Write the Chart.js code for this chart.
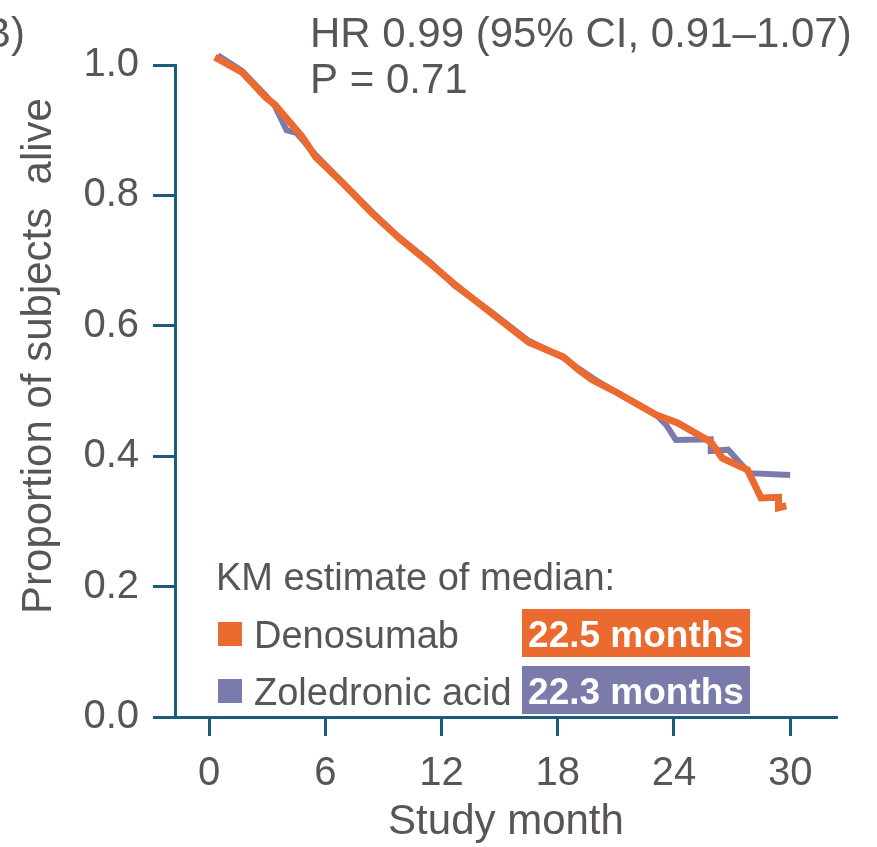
<!DOCTYPE html>
<html>
<head>
<meta charset="utf-8">
<script src="https://cdn.jsdelivr.net/npm/chart.js@4/dist/chart.umd.min.js"></script>
<style>
  html, body { margin: 0; padding: 0; background: #ffffff; }
</style>
</head>
<body>
<canvas id="kmChart" width="877" height="847"></canvas>
<script>
// Kaplan-Meier curves
var denosumabMonths   = [0.3, 1.7, 2.9, 3.4, 4.8, 5.5, 7.0, 8.4, 9.8, 11.4, 12.7, 14.5, 16.5, 18.3, 19.1, 19.8, 21.1, 23.1, 24.2, 25.9, 26.5, 27.8, 28.5, 29.4, 29.4, 29.8];
var denosumabSurvival = [1.012, 0.989, 0.951, 0.939, 0.890, 0.859, 0.816, 0.773, 0.735, 0.696, 0.663, 0.621, 0.575, 0.552, 0.532, 0.517, 0.497, 0.463, 0.451, 0.422, 0.397, 0.379, 0.336, 0.337, 0.321, 0.324];

var zoledronicMonths   = [0.45, 1.7, 2.9, 3.4, 4.0, 4.5, 5.5, 7.0, 8.4, 9.8, 11.4, 12.7, 14.5, 16.5, 18.3, 19.1, 19.9, 21.2, 23.1, 23.6, 24.1, 25.9, 25.9, 26.8, 27.9, 30.0];
var zoledronicSurvival = [1.015, 0.991, 0.954, 0.937, 0.900, 0.896, 0.862, 0.817, 0.775, 0.736, 0.698, 0.661, 0.623, 0.577, 0.551, 0.534, 0.518, 0.495, 0.463, 0.448, 0.425, 0.426, 0.408, 0.410, 0.374, 0.371];

var xTicks = [0, 6, 12, 18, 24, 30];
var yTicks = [0, 0.2, 0.4, 0.6, 0.8, 1.0];

var seriesNames  = ['Denosumab', 'Zoledronic acid'];
var medianLabels = ['22.5 months', '22.3 months'];

var orange = '#eb6a30';
var purple = '#7b7bab';
var axisColor = '#1b5b7c';
var textColor = '#595556';
var fontFamily = '"Liberation Sans", Arial, sans-serif';

function toPoints(xs, ys) {
    return xs.map(function(x, i) { return { x: x, y: ys[i] }; });
}

// annotations: panel label, HR/P text, y title, median legend
var annotations = {
    id: 'annotations',
    afterDraw: function(chart) {
        var ctx = chart.ctx;
        ctx.save();
        ctx.fillStyle = textColor;
        ctx.textAlign = 'left';
        ctx.textBaseline = 'alphabetic';
        ctx.font = '42px ' + fontFamily;
        ctx.fillText('B)', -17, 47);
        ctx.fillText('HR 0.99 (95% CI, 0.91\u20131.07)', 310, 47);
        ctx.fillText('P = 0.71', 310, 93);

        // y axis title
        ctx.save();
        ctx.translate(51, 356);
        ctx.rotate(-Math.PI / 2);
        ctx.textAlign = 'center';
        ctx.fillText('Proportion of subjects  alive', 0, 0);
        ctx.restore();

        // median legend
        ctx.font = '38px ' + fontFamily;
        ctx.fillText('KM estimate of median:', 216, 590);
        var colors = [orange, purple];
        var rowY = [634, 691];
        for (var i = 0; i < seriesNames.length; i++) {
            ctx.fillStyle = colors[i];
            ctx.fillRect(218, rowY[i] - 12, 24, 24);
            ctx.fillRect(522, rowY[i] - 25, 228, 48);
            ctx.fillStyle = textColor;
            ctx.font = '38px ' + fontFamily;
            ctx.textAlign = 'left';
            ctx.fillText(seriesNames[i], 254, rowY[i] + 14);
            ctx.fillStyle = '#ffffff';
            ctx.font = 'bold 37px ' + fontFamily;
            ctx.textAlign = 'center';
            ctx.fillText(medianLabels[i], 636, rowY[i] + 13);
        }
        ctx.restore();
    }
};

var ctx = document.getElementById('kmChart').getContext('2d');
var kmChart = new Chart(ctx, {
    type: 'scatter',
    data: {
        datasets: [{
            label: seriesNames[0],
            data: toPoints(denosumabMonths, denosumabSurvival),
            borderColor: orange,
            borderWidth: 7,
            showLine: true,
            pointRadius: 0,
            tension: 0,
            clip: false,
            order: 0
        }, {
            label: seriesNames[1],
            data: toPoints(zoledronicMonths, zoledronicSurvival),
            borderColor: purple,
            borderWidth: 6,
            showLine: true,
            pointRadius: 0,
            tension: 0,
            clip: false,
            order: 1
        }]
    },
    options: {
        responsive: false,
        animation: false,
        layout: {
            padding: { top: 65, right: 40, left: 0, bottom: 0 }
        },
        plugins: {
            legend: { display: false },
            tooltip: { enabled: false }
        },
        scales: {
            x: {
                type: 'linear',
                min: -1.76,
                max: 32.42,
                afterBuildTicks: function(scale) {
                    scale.ticks = xTicks.map(function(v) { return { value: v }; });
                },
                afterFit: function(scale) { scale.height = 130; },
                grid: {
                    drawOnChartArea: false,
                    drawTicks: true,
                    tickLength: 19,
                    tickWidth: 3,
                    tickColor: axisColor
                },
                border: { display: true, color: axisColor, width: 3 },
                ticks: {
                    color: textColor,
                    padding: 14,
                    maxRotation: 0,
                    font: { family: fontFamily, size: 40 }
                },
                title: {
                    display: true,
                    text: 'Study month',
                    color: textColor,
                    padding: { top: 0, bottom: 4 },
                    font: { family: fontFamily, size: 42, lineHeight: 1.0 }
                }
            },
            y: {
                min: 0,
                max: 1,
                afterBuildTicks: function(scale) {
                    scale.ticks = yTicks.map(function(v) { return { value: v }; });
                },
                afterFit: function(scale) { scale.width = 175; },
                grid: {
                    drawOnChartArea: false,
                    drawTicks: true,
                    tickLength: 22,
                    tickWidth: 3,
                    tickColor: axisColor
                },
                border: { display: true, color: axisColor, width: 3 },
                ticks: {
                    color: textColor,
                    padding: 14,
                    font: { family: fontFamily, size: 40 },
                    callback: function(value) { return value.toFixed(1); }
                }
            }
        }
    },
    plugins: [annotations]
});
</script>
</body>
</html>
